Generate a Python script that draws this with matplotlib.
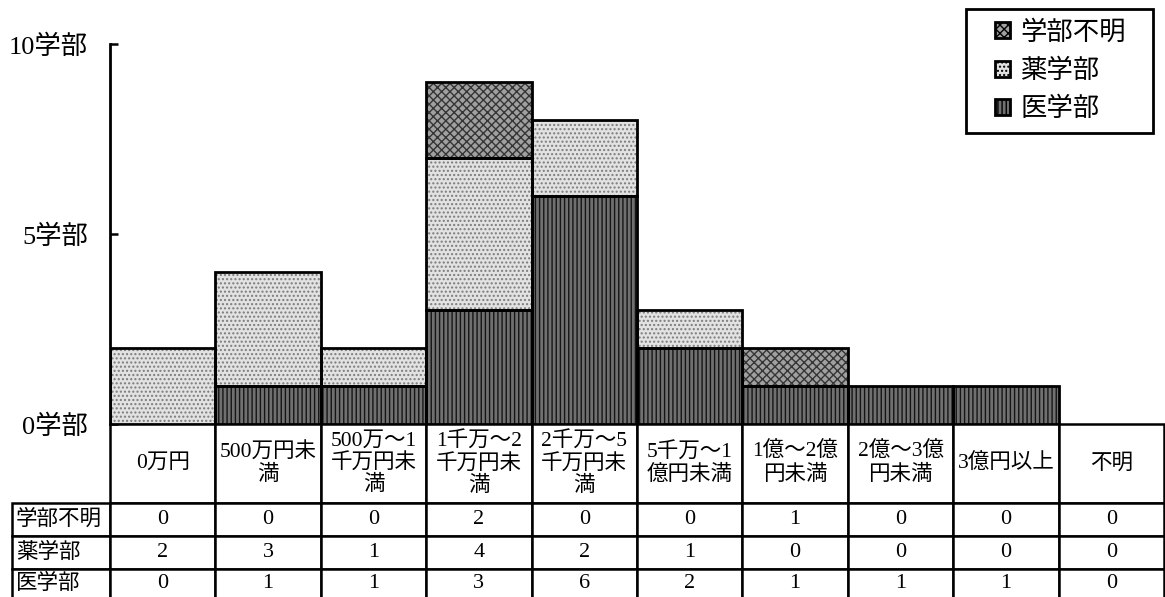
import matplotlib
matplotlib.use("Agg")
import matplotlib.pyplot as plt
from matplotlib.patches import Patch, Rectangle
from matplotlib.table import Table
import numpy as np

plt.rcParams['font.family'] = ['Liberation Serif', 'Noto Sans CJK JP']
plt.rcParams['hatch.linewidth'] = 1.0

categories = ["0万円", "500万円未\n満", "500万～1\n千万円未\n満", "1千万～2\n千万円未\n満",
              "2千万～5\n千万円未\n満", "5千万～1\n億円未満", "1億～2億\n円未満",
              "2億～3億\n円未満", "3億円以上", "不明"]
series_names = ["学部不明", "薬学部", "医学部"]
unknown = [0, 0, 0, 2, 0, 0, 1, 0, 0, 0]
pharm = [2, 3, 1, 4, 2, 1, 0, 0, 0, 0]
med = [0, 1, 1, 3, 6, 2, 1, 1, 1, 0]
yticks = [0, 5, 10]
ytick_labels = ["0学部", "5学部", "10学部"]

styles = {
    "医学部": dict(face="#707070", hatch="||||", hc="#151515"),
    "薬学部": dict(face="#e2e2e2", hatch="....", hc="#7c7c7c"),
    "学部不明": dict(face="#a0a0a0", hatch="xxxx", hc="#353535"),
}

FONT = ['Liberation Serif', 'Noto Sans CJK JP']
fig = plt.figure(figsize=(11.65, 5.97), dpi=100)
W, H = 1165, 597
ax_l, ax_r, ax_t, ax_b = 110, 1164, 44, 424
ax = fig.add_axes([ax_l / W, 1 - ax_b / H, (ax_r - ax_l) / W, (ax_b - ax_t) / H])

x = np.arange(len(categories))
bottom = np.zeros(len(categories))
for name, vals in [("医学部", med), ("薬学部", pharm), ("学部不明", unknown)]:
    v = np.array(vals, dtype=float)
    st = styles[name]
    ax.bar(x, v, width=1.0, bottom=bottom, color=st["face"], edgecolor=st["hc"],
           hatch=st["hatch"], linewidth=0, zorder=2)
    mask = v > 0
    ax.bar(x[mask], v[mask], width=1.0, bottom=bottom[mask], fill=False,
           edgecolor="black", linewidth=2.0, zorder=3)
    bottom = bottom + v

ax.set_xlim(-0.5, len(categories) - 0.5)
ax.set_ylim(0, 10)
ax.set_xticks([])
ax.set_yticks(yticks)
ax.set_yticklabels(ytick_labels, fontsize=19)
ax.tick_params(axis='y', direction='in', length=6, width=1.8, pad=16)
for s in ["top", "right", "bottom"]:
    ax.spines[s].set_visible(False)
ax.spines["left"].set_linewidth(2.0)
ax.spines["left"].set_zorder(4)

# table (bbox covers the data grid; row labels extend to the left)
aw, ah = ax_r - ax_l, ax_b - ax_t
row_px = [79, 33, 33, 30]
tab_h = sum(row_px) / ah
bbox = [0.0, -tab_h, 1.0, tab_h]
tbl = Table(ax, bbox=bbox)
col_w = 1.0 / len(categories)
lab_w = 98 / aw
row_heights = [p / ah for p in row_px]


def style_cell(cell, fs=15.5):
    cell.set_linewidth(1.8)
    cell.set_edgecolor("black")
    cell.set_clip_on(False)
    t = cell.get_text()
    t.set_fontsize(fs)
    t.set_fontfamily(FONT)
    return cell


for j, cat in enumerate(categories):
    c = tbl.add_cell(0, j, width=col_w, height=row_heights[0], text=cat, loc='center')
    style_cell(c)
    c.get_text().set_linespacing(1.15)
for i, (name, vals) in enumerate(zip(series_names, (unknown, pharm, med))):
    c = tbl.add_cell(i + 1, -1, width=lab_w, height=row_heights[i + 1], text=name, loc='left')
    c.PAD = 0.04
    style_cell(c)
    for j, v in enumerate(vals):
        c = tbl.add_cell(i + 1, j, width=col_w, height=row_heights[i + 1], text=str(v), loc='center')
        style_cell(c, fs=16)
tbl.auto_set_font_size(False)
ax.add_table(tbl)
tbl.set_clip_on(False)

# legend
handles = [Patch(facecolor=styles[n]["face"], hatch=styles[n]["hatch"], edgecolor="black",
                 linewidth=2.0, label=n) for n in series_names]
leg = fig.legend(handles=handles, loc="upper left",
                 bbox_to_anchor=(995 / W, 1 - 20 / H), frameon=False,
                 fontsize=19, handlelength=0.55, handleheight=0.55, handletextpad=0.4,
                 labelspacing=0.53, borderpad=0.0, borderaxespad=0)
fig.add_artist(Rectangle((966 / W, 1 - 133 / H), (1153 - 966) / W, (133 - 9) / H,
                         transform=fig.transFigure, fill=False, edgecolor="black",
                         linewidth=2))

fig.savefig("out.png", dpi=100)
